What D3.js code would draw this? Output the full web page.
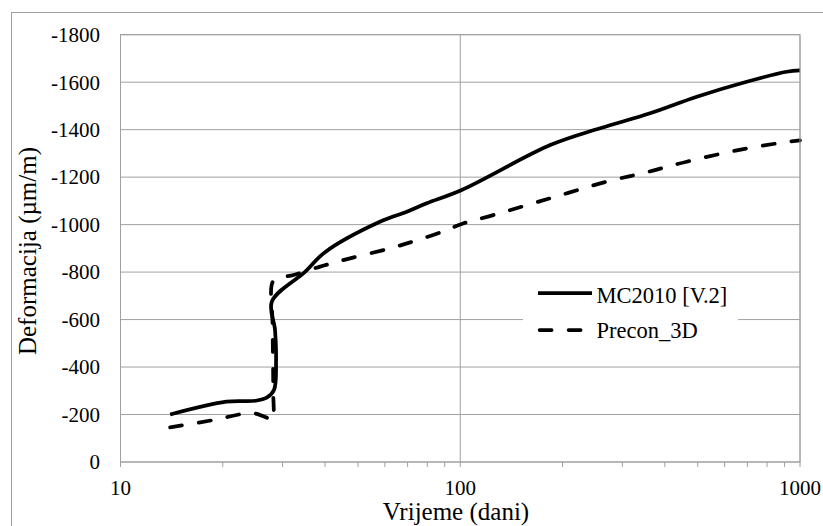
<!DOCTYPE html>
<html>
<head>
<meta charset="utf-8">
<script src="https://cdn.jsdelivr.net/npm/d3@7"></script>
<style>
  html, body { margin: 0; padding: 0; background: #fff; }
  svg { display: block; }
  svg text { font-family: "Liberation Serif", "Times New Roman", "DejaVu Serif", serif; }
</style>
</head>
<body>
<svg id="chart" width="823" height="526"></svg>
<script>
// ---- data ----
const seriesNames = ["MC2010 [V.2]", "Precon_3D"];
const mcDays   = [14, 20.5, 25, 27, 28.3, 28.7, 28.5, 27.9, 35, 40, 58, 69.6, 79.7, 101, 184, 258, 362, 497, 697, 914, 1000];
const mcValues = [-200, -254, -258, -272, -303, -430, -556, -676, -802, -884, -1012, -1054, -1090, -1146, -1335, -1406, -1469, -1539, -1602, -1644, -1650];
const prDays   = [14, 18.8, 22.5, 23.8, 25, 27.5, 28.05, 28.15, 28.1, 28.0, 27.85, 28.5, 32.3, 38.7, 47.4, 62.1, 76.1, 91.2, 101, 125, 184, 270, 350, 464, 697, 924, 1000];
const prValues = [-146, -177, -201, -207, -204, -181, -175, -300, -450, -600, -745, -770, -788, -823, -858, -900, -938, -977, -1003, -1040, -1111, -1181, -1219, -1265, -1321, -1349, -1355];
const yTicks = [0, -200, -400, -600, -800, -1000, -1200, -1400, -1600, -1800];
const yTickLabels = ["0", "-200", "-400", "-600", "-800", "-1000", "-1200", "-1400", "-1600", "-1800"];
const xMajor = [10, 100, 1000];
const xMajorLabels = ["10", "100", "1000"];
const xMinor = [20, 30, 40, 50, 60, 70, 80, 90, 200, 300, 400, 500, 600, 700, 800, 900];
const xTitle = "Vrijeme (dani)";
const yTitle = "Deformacija (µm/m)";

// ---- layout ----
const svg = d3.select("#chart");
const L = 120.5, R = 800, T = 34.7, B = 462;
const grid = "#A0A0A0";

const x = d3.scaleLog().domain([10, 1000]).range([L, R]);
const y = d3.scaleLinear().domain([0, -1800]).range([B, T]);

// outer chart border
svg.append("rect").attr("x", 11.5).attr("y", 12.5).attr("width", 900).attr("height", 600)
  .attr("fill", "none").attr("stroke", grid).attr("stroke-width", 1);

// horizontal gridlines
svg.append("g").selectAll("line").data(yTicks).join("line")
  .attr("x1", L).attr("x2", R).attr("y1", d => y(d)).attr("y2", d => y(d))
  .attr("stroke", grid).attr("stroke-width", 1);

// vertical major gridlines
svg.append("g").selectAll("line").data(xMajor).join("line")
  .attr("x1", d => x(d)).attr("x2", d => x(d)).attr("y1", T).attr("y2", B)
  .attr("stroke", grid).attr("stroke-width", 1);

// x ticks (below axis)
svg.append("g").selectAll("line").data(xMajor.concat(xMinor)).join("line")
  .attr("x1", d => x(d)).attr("x2", d => x(d)).attr("y1", B).attr("y2", B + 5)
  .attr("stroke", grid).attr("stroke-width", 1);

// y tick labels
svg.append("g").selectAll("text").data(yTicks).join("text")
  .attr("x", 100).attr("y", d => y(d)).attr("dy", "0.35em")
  .attr("text-anchor", "end").attr("font-size", 21).attr("fill", "#000")
  .text((d, i) => yTickLabels[i]);

// x tick labels
svg.append("g").selectAll("text").data(xMajor).join("text")
  .attr("x", d => x(d)).attr("y", 495)
  .attr("text-anchor", "middle").attr("font-size", 21).attr("fill", "#000")
  .text((d, i) => xMajorLabels[i]);

// axis titles
svg.append("text").attr("x", 456).attr("y", 520)
  .attr("text-anchor", "middle").attr("font-size", 25).attr("fill", "#000").text(xTitle);
svg.append("text").attr("transform", "translate(27,251) rotate(-90)").attr("dy", "0.35em")
  .attr("text-anchor", "middle").attr("font-size", 25).attr("fill", "#000").text(yTitle);

// legend background
svg.append("rect").attr("x", 523).attr("y", 277).attr("width", 215).attr("height", 72).attr("fill", "#fff");

// series
const line = d3.line().x(d => x(d[0])).y(d => y(d[1])).curve(d3.curveCatmullRom.alpha(0.5));
const mc = mcDays.map((d, i) => [d, mcValues[i]]);
const pr = prDays.map((d, i) => [d, prValues[i]]);

svg.append("path").datum(pr).attr("d", line).attr("fill", "none").attr("stroke", "#000")
  .attr("stroke-width", 3.75).attr("stroke-dasharray", "12,17").attr("stroke-linecap", "round")
  .attr("stroke-linejoin", "round");
svg.append("path").datum(mc).attr("d", line).attr("fill", "none").attr("stroke", "#000")
  .attr("stroke-width", 3.75).attr("stroke-linejoin", "round");

// legend
const lg = svg.append("g");
lg.append("line").attr("x1", 538).attr("x2", 592).attr("y1", 293).attr("y2", 293)
  .attr("stroke", "#000").attr("stroke-width", 3.75);
lg.append("line").attr("x1", 539.6).attr("x2", 592).attr("y1", 330).attr("y2", 330)
  .attr("stroke", "#000").attr("stroke-width", 3.75).attr("stroke-dasharray", "12,17").attr("stroke-linecap", "round");
lg.append("text").attr("x", 596.5).attr("y", 295).attr("dy", "0.35em").attr("font-size", 22.5).text(seriesNames[0]);
lg.append("text").attr("x", 596.5).attr("y", 330).attr("dy", "0.35em").attr("font-size", 22.5).text(seriesNames[1]);

// plot border (top/right) and axes
svg.append("rect").attr("x", L).attr("y", T).attr("width", R - L).attr("height", B - T)
  .attr("fill", "none").attr("stroke", grid).attr("stroke-width", 1);
</script>
</body>
</html>
